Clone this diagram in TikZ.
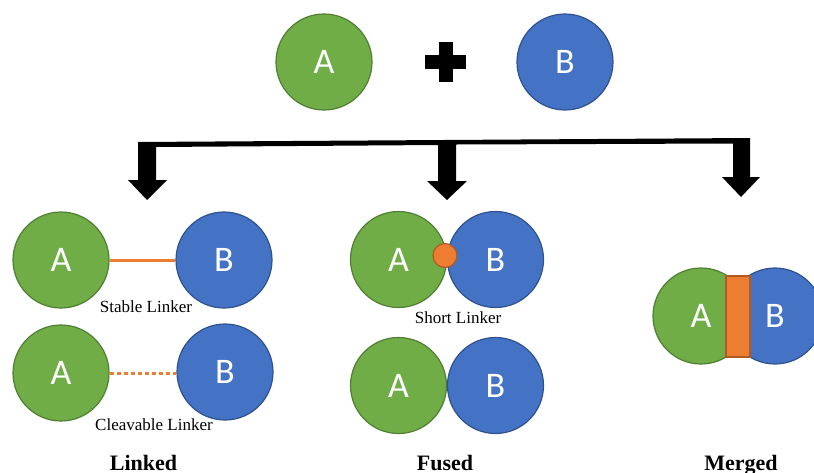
\documentclass[tikz,border=0pt]{standalone}
\usepackage{fontspec}
\setmainfont{Liberation Serif}
\newfontfamily\circfont{Carlito}

\definecolor{agreen}{HTML}{70AD47}
\definecolor{agreenline}{HTML}{507E32}
\definecolor{bblue}{HTML}{4472C4}
\definecolor{bblueline}{HTML}{2F528F}
\definecolor{lorange}{HTML}{ED7D31}
\definecolor{lorangeline}{HTML}{AE5A21}

\tikzset{
  unit/.style={circle, minimum size=96pt, inner sep=0pt, line width=1.2pt,
    text=white, font=\circfont\fontsize{36}{40}\selectfont},
  ga/.style={unit, fill=agreen, draw=agreenline},
  gb/.style={unit, fill=bblue, draw=bblueline},
  caption/.style={anchor=base, inner sep=0pt, font=\fontsize{17}{20}\selectfont},
  heading/.style={anchor=base, inner sep=0pt, font=\bfseries\fontsize{22}{26}\selectfont},
  link/.style={draw=lorange, line width=3pt},
  cleave/.style={link, dash pattern=on 4pt off 3pt},
  joint/.style={fill=lorange, draw=lorangeline, line width=1.2pt, inner sep=0pt},
}

\begin{document}
\begin{tikzpicture}[x=1pt, y=-1pt]
  \useasboundingbox (0,0) rectangle (814,472);
  \clip (0,0) rectangle (814,472);

  % starting components
  \node[ga] (a0) at (324,62) {A};
  \node[gb] (b0) at (565,62) {B};
  \fill (439,42) rectangle (453,82);
  \fill (425,55) rectangle (466,69);

  % branching arrow into the three strategies
  \coordinate (tipL) at (147,200);
  \coordinate (tipM) at (447,200);
  \coordinate (tipR) at (741,197);
  \fill (138,142) -- (750,138) -- (750,177) -- (760,177) -- (tipR)
        -- (722,177) -- (733,177) -- (733,143.5)
        -- (456,144.5) -- (456,181) -- (467,181) -- (tipM)
        -- (427,181) -- (438,181) -- (438,145)
        -- (156,147) -- (156,180) -- (167,180) -- (tipL)
        -- (128,180) -- (138,180) -- cycle;

  % linked: stable linker
  \node[ga] (la1) at (61,260) {A};
  \node[gb] (lb1) at (224,260) {B};
  \draw[link] (la1.east) -- (lb1.west);
  \node[caption] (lcap1) at (146,312) {Stable Linker};

  % linked: cleavable linker
  \node[ga] (la2) at (61,373) {A};
  \node[gb] (lb2) at (225,372) {B};
  \draw[cleave] (la2.east |- 0,373) -- (lb2.west |- 0,373);
  \node[caption] (lcap2) at (154,430) {Cleavable Linker};

  % fused: short linker
  \node[ga] (fa1) at (398.5,259.5) {A};
  \node[gb] (fb1) at (495.5,259.5) {B};
  \node[joint, circle, minimum size=24pt] (fj) at (445,255.5) {};
  \node[caption] (fcap) at (458,323) {Short Linker};

  % fused: direct
  \node[ga] (fa2) at (398.5,385.5) {A};
  \node[gb] (fb2) at (495.5,385.5) {B};

  % merged
  \node[ga] (ma) at (701,316) {A};
  \node[gb] (mb) at (775,316) {B};
  \node[joint, rectangle, minimum width=24pt, minimum height=81pt] (mj) at (738,316.5) {};

  % headings
  \node[heading] (hl) at (143.5,470) {Linked};
  \node[heading] (hf) at (445,470) {Fused};
  \node[heading] (hm) at (741,470) {Merged};
\end{tikzpicture}
\end{document}
